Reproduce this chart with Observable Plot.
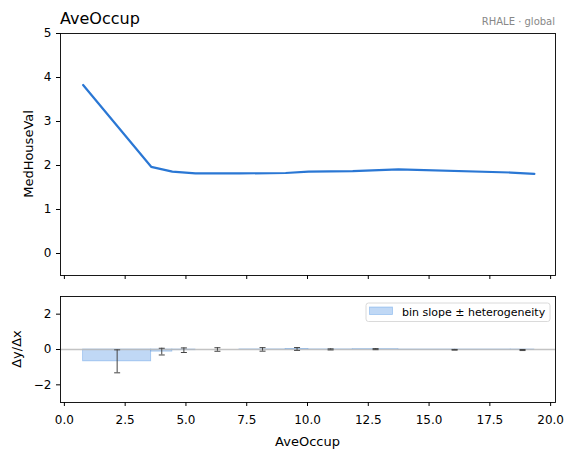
<!DOCTYPE html>
<html>
<head>
<meta charset="utf-8">
<script src="https://cdn.jsdelivr.net/npm/d3@7"></script>
<script src="https://cdn.jsdelivr.net/npm/@observablehq/plot@0.6"></script>
<style>
  body { margin: 0; background: white; }
  #wrap { position: relative; width: 575px; height: 455px; font-family: "DejaVu Sans", sans-serif; }
  #wrap > svg { position: absolute; left: 0; }
</style>
</head>
<body>
<div id="wrap"></div>
<script>
// ---- data ----
const featureName = "AveOccup";
const targetName = "MedHouseVal";
const methodLabel = "RHALE · global";
const legendLabel = "bin slope ± heterogeneity";
const binEdges = [0.77, 3.57, 4.44, 5.39, 7.2, 9.1, 10.04, 11.86, 13.74, 18.36, 19.33];
const effectAtEdges = [3.83, 1.97, 1.86, 1.82, 1.82, 1.83, 1.86, 1.87, 1.91, 1.84, 1.81];
const binSlopes = [-0.67, -0.12, -0.04, 0.0, 0.005, 0.03, 0.005, 0.02, -0.017, -0.03];
const binHetero = [0.65, 0.19, 0.13, 0.1, 0.1, 0.08, 0.03, 0.03, 0.02, 0.03];
const xTicks = [0, 2.5, 5, 7.5, 10, 12.5, 15, 17.5, 20];
const yTicksTop = [0, 1, 2, 3, 4, 5];
const yTicksBottom = [-2, 0, 2];

// ---- derived tables ----
const linePts = binEdges.map((x, i) => ({x, y: effectAtEdges[i]}));
const bins = binSlopes.map((s, i) => ({
  x1: binEdges[i], x2: binEdges[i + 1],
  xc: (binEdges[i] + binEdges[i + 1]) / 2,
  s, lo: s - binHetero[i], hi: s + binHetero[i]
}));
const caps = bins.flatMap(b => [{x: b.xc, y: b.lo}, {x: b.xc, y: b.hi}]);

const blue = "#2a77d4";
const barBlue = "#4a90e2";
const xDomain = [-0.16, 20.2];
const W = 575;
const plotStyle = {fontFamily: "DejaVu Sans, sans-serif", fontSize: "12px", color: "black", background: "transparent", overflow: "visible"};
const capSymbol = { draw(ctx) { ctx.moveTo(-3, 0); ctx.lineTo(3, 0); } };

const topPanel = Plot.plot({
  width: W, height: 285,
  marginLeft: 60, marginRight: 20, marginTop: 33, marginBottom: 10,
  style: plotStyle,
  x: {domain: xDomain, ticks: xTicks, tickFormat: () => "", tickSize: 4, label: null},
  y: {domain: [-0.5, 5], ticks: yTicksTop, tickFormat: d3.format("d"), tickSize: 4, tickPadding: 5, label: null},
  marks: [
    Plot.line(linePts, {x: "x", y: "y", stroke: blue, strokeWidth: 2.2}),
    Plot.frame({stroke: "black", strokeWidth: 0.9})
  ]
});
topPanel.style.top = "0px";

const bottomPanel = Plot.plot({
  width: W, height: 170,
  marginLeft: 60, marginRight: 20, marginTop: 11, marginBottom: 53,
  style: plotStyle,
  x: {domain: xDomain, ticks: xTicks, tickFormat: d3.format(".1f"), tickSize: 4, tickPadding: 9, label: null},
  y: {domain: [-3, 3], ticks: yTicksBottom, tickFormat: d3.format("d"), tickSize: 4, tickPadding: 5, label: null},
  marks: [
    Plot.rectY(bins, {x1: "x1", x2: "x2", y1: 0, y2: "s", fill: barBlue, fillOpacity: 0.35, stroke: barBlue, strokeOpacity: 0.45, strokeWidth: 0.8}),
    Plot.ruleY([0], {stroke: "#b8b8b8", strokeWidth: 1.3, strokeOpacity: 0.85}),
    Plot.ruleX(bins, {x: "xc", y1: "lo", y2: "hi", stroke: "#444", strokeWidth: 1}),
    Plot.dot(caps, {x: "x", y: "y", symbol: capSymbol, stroke: "#444", strokeWidth: 1, r: 3}),
    Plot.frame({stroke: "black", strokeWidth: 0.9})
  ]
});
bottomPanel.style.top = "285px";

const wrap = document.getElementById("wrap");
wrap.appendChild(topPanel);
wrap.appendChild(bottomPanel);

// ---- overlay: titles, axis labels, legend ----
const ns = "http://www.w3.org/2000/svg";
const ov = document.createElementNS(ns, "svg");
ov.setAttribute("width", W); ov.setAttribute("height", 455);
ov.style.top = "0px";
ov.setAttribute("font-family", "DejaVu Sans, sans-serif");
function txt(str, attrs) {
  const t = document.createElementNS(ns, "text");
  for (const k in attrs) t.setAttribute(k, attrs[k]);
  t.textContent = str;
  ov.appendChild(t);
  return t;
}
function el(name, attrs) {
  const e = document.createElementNS(ns, name);
  for (const k in attrs) e.setAttribute(k, attrs[k]);
  ov.appendChild(e);
  return e;
}
txt(featureName, {x: 60, y: 24, "font-size": 16, fill: "black"});
txt(methodLabel, {x: 555, y: 25, "font-size": 10, fill: "#888", "text-anchor": "end"});
txt(targetName, {transform: "translate(33,154) rotate(-90)", "font-size": 13, "text-anchor": "middle", fill: "black"});
txt("Δy/Δx", {transform: "translate(21,349) rotate(-90)", "font-size": 13, "text-anchor": "middle", fill: "black"});
txt(featureName, {x: 307.5, y: 446, "font-size": 13, "text-anchor": "middle", fill: "black"});
el("rect", {x: 366, y: 303, width: 184, height: 18.5, rx: 2.5, fill: "white", "fill-opacity": 0.8, stroke: "#d0d0d0", "stroke-width": 0.8});
el("rect", {x: 369.5, y: 307, width: 23, height: 7.5, fill: barBlue, "fill-opacity": 0.35, stroke: barBlue, "stroke-opacity": 0.45, "stroke-width": 0.8});
txt(legendLabel, {x: 402, y: 315.5, "font-size": 11, fill: "black"});
wrap.appendChild(ov);
</script>
</body>
</html>
